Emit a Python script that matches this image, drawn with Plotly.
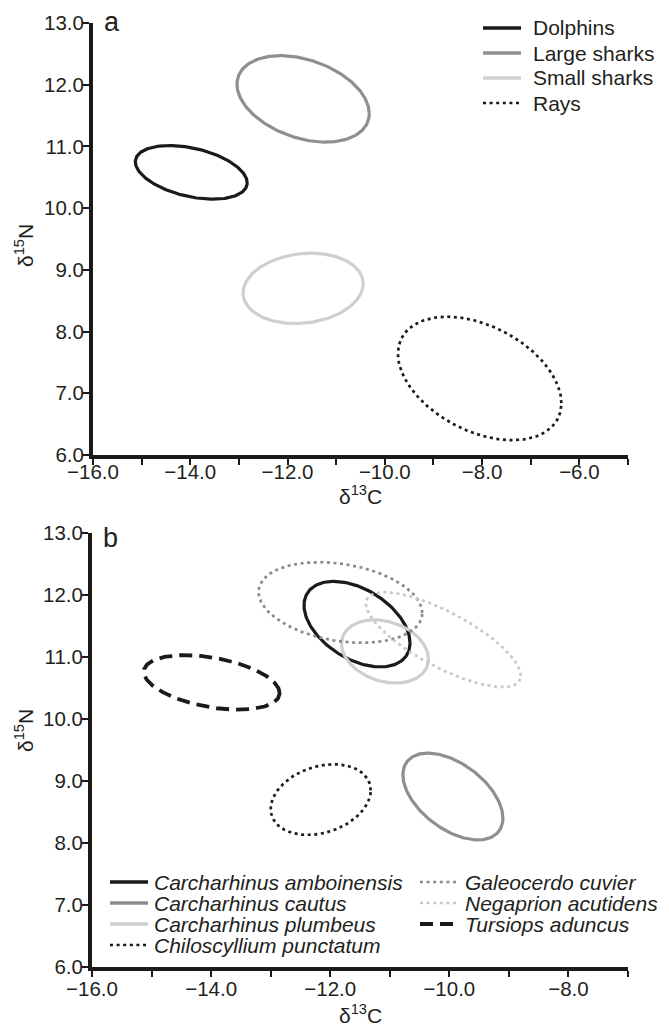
import numpy as np
import plotly.graph_objects as go

# ---------------- data (ellipse parameters) ----------------
# Panel a: groups
a_names = ["Dolphins", "Large sharks", "Small sharks", "Rays"]
a_cx = [-13.98, -11.68, -11.68, -8.05]
a_cy = [10.58, 11.77, 8.70, 7.24]
a_sx = [1.15, 1.36, 1.235, 1.68]
a_sy = [0.435, 0.70, 0.57, 1.00]
a_rho = [-0.39, -0.34, 0.13, -0.40]
a_color = ["#1a1a1a", "#8f8f8f", "#cfcfcf", "#1a1a1a"]
a_dash = ["solid", "solid", "solid", "3px,3.6px"]

# Panel b: species
b_names = ["Carcharhinus amboinensis", "Carcharhinus cautus", "Carcharhinus plumbeus",
           "Chiloscyllium punctatum", "Galeocerdo cuvier", "Negaprion acutidens",
           "Tursiops aduncus"]
b_cx = [-11.55, -9.94, -11.08, -12.16, -11.83, -10.10, -13.99]
b_cy = [11.53, 8.75, 11.09, 8.70, 11.88, 11.28, 10.59]
b_sx = [0.89, 0.84, 0.73, 0.84, 1.375, 1.30, 1.14]
b_sy = [0.69, 0.70, 0.51, 0.57, 0.65, 0.765, 0.44]
b_rho = [-0.44, -0.50, -0.24, 0.26, -0.26, -0.76, -0.39]
b_color = ["#1a1a1a", "#8f8f8f", "#cfcfcf", "#1a1a1a", "#8a8a8a", "#c8c8c8", "#1a1a1a"]
b_dash = ["solid", "solid", "solid", "3px,3.6px", "3px,3.6px", "3px,3.6px", "13px,7px"]

x_a_range = [-16, -5]
x_b_range = [-16, -7]
y_range = [6, 13]

FONT = "Liberation Sans, Arial, Helvetica, sans-serif"
TXT = "#231f20"
OFF = 8                      # default page margin of the browser body
W, H = 669 - OFF, 1029 - OFF

def ellipse(cx, cy, sx, sy, rho, n=240):
    t = np.linspace(0, 2 * np.pi, n)
    x = cx + sx * np.cos(t)
    y = cy + sy * (rho * np.cos(t) + np.sqrt(1 - rho ** 2) * np.sin(t))
    return x, y

fig = go.Figure()

def add_panel(names, cx, cy, sx, sy, rho, colors, dashes, xa, ya):
    for i, nm in enumerate(names):
        x, y = ellipse(cx[i], cy[i], sx[i], sy[i], rho[i])
        w = 3.8 if dashes[i] == "13px,7px" else (3.2 if dashes[i] == "solid" else 2.7)
        fig.add_trace(go.Scatter(x=x, y=y, mode="lines", name=nm, showlegend=False,
                                 line=dict(color=colors[i], width=w, dash=dashes[i]),
                                 xaxis=xa, yaxis=ya, hoverinfo="skip"))

add_panel(a_names, a_cx, a_cy, a_sx, a_sy, a_rho, a_color, a_dash, "x", "y")
add_panel(b_names, b_cx, b_cy, b_sx, b_sy, b_rho, b_color, b_dash, "x2", "y2")

def px(x):
    return (x - OFF) / W

def py(y):
    return 1 - (y - OFF) / H

axis_common = dict(showline=True, linewidth=4, linecolor="#1a1a1a", showgrid=False,
                   zeroline=False, ticks="outside", ticklen=6, tickwidth=2,
                   tickcolor="#1a1a1a", tickformat=".1f", automargin=False,
                   tickfont=dict(family=FONT, size=20.5, color=TXT), mirror=False)
minor_ticks = dict(dtick=1, ticks="outside", ticklen=6, tickwidth=2, tickcolor="#1a1a1a")

fig.update_layout(
    width=W, height=H, margin=dict(l=0, r=0, t=0, b=0, autoexpand=False),
    paper_bgcolor="white", plot_bgcolor="white", showlegend=False,
    xaxis=dict(domain=[px(93), px(628)], range=x_a_range, dtick=2, anchor="y",
               minor=minor_ticks, ticklabelstandoff=-11, **axis_common),
    yaxis=dict(domain=[py(455), py(23)], range=y_range, dtick=1, anchor="x",
               ticklabelstandoff=-5, **axis_common),
    xaxis2=dict(domain=[px(92), px(628)], range=x_b_range, dtick=2, anchor="y2",
                minor=minor_ticks, ticklabelstandoff=-6, **axis_common),
    yaxis2=dict(domain=[py(967), py(533)], range=y_range, dtick=1, anchor="x2",
                ticklabelstandoff=-5, **axis_common),
)

annotations = []
shapes = []

def txt(x, y, s, size=20.5, xanchor="center", yanchor="middle", angle=0, italic=False):
    annotations.append(dict(x=px(x), y=py(y), xref="paper", yref="paper", text=s,
                            showarrow=False, xanchor=xanchor, yanchor=yanchor,
                            textangle=angle, borderpad=0,
                            font=dict(family=FONT, size=size, color=TXT,
                                      style="italic" if italic else "normal")))

# panel letters
txt(103, 22, "a", size=27, xanchor="left")
txt(102, 538, "b", size=27, xanchor="left")

# axis titles
txt(360, 495, "δ<sup>13</sup>C", size=21)
txt(360, 1014, "δ<sup>13</sup>C", size=21)
txt(24, 246, "δ<sup>15</sup>N", size=21, angle=-90)
txt(24, 731, "δ<sup>15</sup>N", size=21, angle=-90)

def legend_item(x0, y, name, color, dash, italic, gap):
    w = 4.2 if dash == "13px,7px" else (3.5 if dash == "solid" else 2.7)
    shapes.append(dict(type="line", xref="paper", yref="paper",
                       x0=px(x0), x1=px(x0 + 38), y0=py(y), y1=py(y),
                       line=dict(color=color, width=w, dash=dash)))
    txt(x0 + gap, y, name, size=21, xanchor="left", italic=italic)

# legend panel a
for i, nm in enumerate(a_names):
    legend_item(483, 28 + 25 * i, nm, a_color[i], a_dash[i], False, 49)

# legend panel b (two columns)
for i, nm in enumerate(b_names):
    if i < 4:
        legend_item(110, 882 + 21 * i, nm, b_color[i], b_dash[i], True, 43)
    else:
        legend_item(420, 882 + 21 * (i - 4), nm, b_color[i], b_dash[i], True, 44)

fig.update_layout(annotations=annotations, shapes=shapes)
fig.write_html("out.html")
